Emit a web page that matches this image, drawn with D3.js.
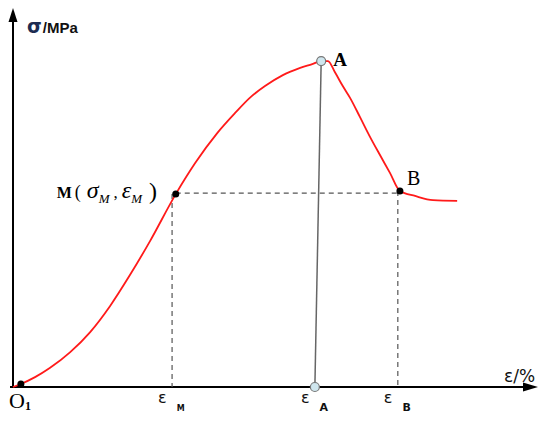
<!DOCTYPE html>
<html lang="en">
<head>
  <meta charset="UTF-8">
  <script src="https://cdn.jsdelivr.net/npm/d3@7"></script>
  <title>Stress-strain curve</title>
  <style>
    body { margin: 0; background: #fff; }
    svg { display: block; }
  </style>
</head>
<body>
  <script>
      // stress-strain curve (strain %, stress MPa, arbitrary units)
      var strain = [0, 0.15, 0.42, 0.70, 1.09, 1.47, 1.85, 2.23, 2.61, 3.10,
                    3.47, 3.89, 4.23, 4.51, 4.80, 5.14, 5.47, 5.70, 5.87, 6.00,
                    6.13, 6.29, 6.42, 6.61, 6.80, 6.99, 7.18, 7.37, 7.66, 8.00, 8.46];
      var stress = [0, 0.8, 2.6, 5.0, 9.2, 14.5, 21.4, 29.6, 38.5, 50.9,
                    59.1, 67.0, 72.3, 76.3, 79.4, 82.3, 84.2, 85.2, 86.0, 86.0,
                    83.1, 79.2, 76.3, 71.2, 66.0, 61.2, 56.5, 51.7, 50.4, 49.3, 49.1];

      // marked points M, A, B
      var pointNames = ["M", "A", "B"];
      var pointStrain = [3.10, 5.87, 7.37];
      var pointStress = [50.9, 86.0, 51.7];

      // strain labels on the x axis
      var tickSubs = ["M", "A", "B"];
      var tickStrain = [3.03, 5.75, 7.33];

      var width = 550, height = 421;

      var x = d3.scaleLinear().domain([0, 10]).range([13, 538]);
      var y = d3.scaleLinear().domain([0, 100]).range([387, 8]);

      var svg = d3.select("body").append("svg")
        .attr("width", width)
        .attr("height", height);

      //axes with arrow heads
      svg.append("line")
        .attr("x1", x(0)).attr("y1", y(0)).attr("x2", x(0)).attr("y2", y(100) + 10)
        .attr("stroke", "#000").attr("stroke-width", 2);
      svg.append("line")
        .attr("x1", x(0) - 3).attr("y1", y(0)).attr("x2", x(10) - 10).attr("y2", y(0))
        .attr("stroke", "#000").attr("stroke-width", 2);
      svg.append("path")
        .attr("d", "M" + x(0) + "," + y(100) + "l-4.5,14l9,0z")
        .attr("fill", "#000");
      svg.append("path")
        .attr("d", "M" + x(10) + "," + y(0) + "l-15,-4.5l0,9z")
        .attr("fill", "#000");

      //dashed guides from M and B
      var dash = svg.append("g")
        .attr("stroke", "#555").attr("stroke-width", 1.2)
        .attr("stroke-dasharray", "5,4").attr("fill", "none");
      dash.append("line")
        .attr("x1", x(pointStrain[0])).attr("y1", y(pointStress[0]) - 1)
        .attr("x2", x(pointStrain[2])).attr("y2", y(pointStress[0]) - 1);
      [0, 2].forEach(function(i) {
        dash.append("line")
          .attr("x1", x(tickStrain[i])).attr("y1", y(pointStress[i]))
          .attr("x2", x(tickStrain[i])).attr("y2", y(0));
      });

      //solid line from A down to the axis
      svg.append("line")
        .attr("x1", x(pointStrain[1])).attr("y1", y(pointStress[1]))
        .attr("x2", x(tickStrain[1])).attr("y2", y(0))
        .attr("stroke", "#666").attr("stroke-width", 1.5);

      //the curve
      var line = d3.line()
        .x(function(d, i) { return x(strain[i]); })
        .y(function(d, i) { return y(stress[i]); })
        .curve(d3.curveMonotoneX);
      svg.append("path")
        .attr("d", line(strain))
        .attr("fill", "none")
        .attr("stroke", "#ff1a1a")
        .attr("stroke-width", 1.8);

      //points
      svg.append("circle").attr("cx", x(0.15)).attr("cy", y(0.8)).attr("r", 3.5).attr("fill", "#000");
      [0, 2].forEach(function(i) {
        svg.append("circle")
          .attr("cx", x(pointStrain[i])).attr("cy", y(pointStress[i]))
          .attr("r", 3.5).attr("fill", "#000");
      });
      svg.append("circle")
        .attr("cx", x(pointStrain[1])).attr("cy", y(pointStress[1])).attr("r", 4.5)
        .attr("fill", "#cfe6ee").attr("stroke", "#777").attr("stroke-width", 1.2);
      svg.append("circle")
        .attr("cx", x(tickStrain[1])).attr("cy", y(0)).attr("r", 4.5)
        .attr("fill", "#cfe6ee").attr("stroke", "#777").attr("stroke-width", 1.2);

      //y axis title
      var yt = svg.append("text").attr("x", 27).attr("y", 33);
      yt.append("tspan").text("σ")
        .attr("font-family", "DejaVu Sans").attr("font-size", 19)
        .attr("font-weight", "bold").attr("fill", "#1d2c52");
      yt.append("tspan").text("/MPa").attr("dx", 1)
        .attr("font-family", "Liberation Sans").attr("font-size", 15)
        .attr("font-weight", "bold").attr("fill", "#111");

      //x axis title
      svg.append("text").attr("x", 504).attr("y", 382)
        .attr("font-family", "DejaVu Sans").attr("font-size", 17)
        .attr("fill", "#111").text("ε/%");

      //origin label
      var o = svg.append("text").attr("x", 9).attr("y", 408)
        .attr("font-family", "Liberation Serif").attr("fill", "#000");
      o.append("tspan").text("O").attr("font-size", 22);
      o.append("tspan").text("1").attr("font-size", 12).attr("font-weight", "bold").attr("dy", 2);

      //strain labels under the axis
      tickStrain.forEach(function(v, i) {
        var t = svg.append("text").attr("x", x(v) - 14).attr("y", 403)
          .attr("font-family", "DejaVu Sans").attr("fill", "#111");
        t.append("tspan").text("ε").attr("font-size", 16);
        t.append("tspan").text(tickSubs[i]).attr("dx", 10).attr("dy", 8)
          .attr("font-size", i == 0 ? 8 : 11).attr("font-weight", "bold");
      });

      //point labels
      svg.append("text")
        .attr("x", x(pointStrain[1]) + 12).attr("y", y(pointStress[1]) + 5)
        .attr("font-family", "Liberation Serif").attr("font-weight", "bold")
        .attr("font-size", 19).attr("fill", "#000").text(pointNames[1]);
      svg.append("text")
        .attr("x", x(pointStrain[2]) + 7).attr("y", y(pointStress[2]) - 6)
        .attr("font-family", "Liberation Serif")
        .attr("font-size", 20).attr("fill", "#000").text(pointNames[2]);

      //M(σM, εM) label
      var m = svg.append("text")
        .attr("x", x(pointStrain[0]) - 119).attr("y", y(pointStress[0]) + 4)
        .attr("font-family", "Liberation Serif").attr("fill", "#000");
      m.append("tspan").text(pointNames[0]).attr("font-size", 16).attr("font-weight", "bold");
      m.append("tspan").text("(").attr("font-size", 18).attr("dx", 3);
      m.append("tspan").text("σ").attr("font-size", 24).attr("font-style", "italic").attr("dx", 6);
      m.append("tspan").text("M").attr("font-size", 13).attr("font-style", "italic").attr("dy", 5);
      m.append("tspan").text(",").attr("font-size", 17).attr("dy", -5).attr("dx", 4);
      m.append("tspan").text("ε").attr("font-size", 24).attr("font-style", "italic").attr("dx", 4);
      m.append("tspan").text("M").attr("font-size", 13).attr("font-style", "italic").attr("dy", 5);
      m.append("tspan").text(")").attr("font-size", 24).attr("dy", -4).attr("dx", 7);
  </script>
</body>
</html>
